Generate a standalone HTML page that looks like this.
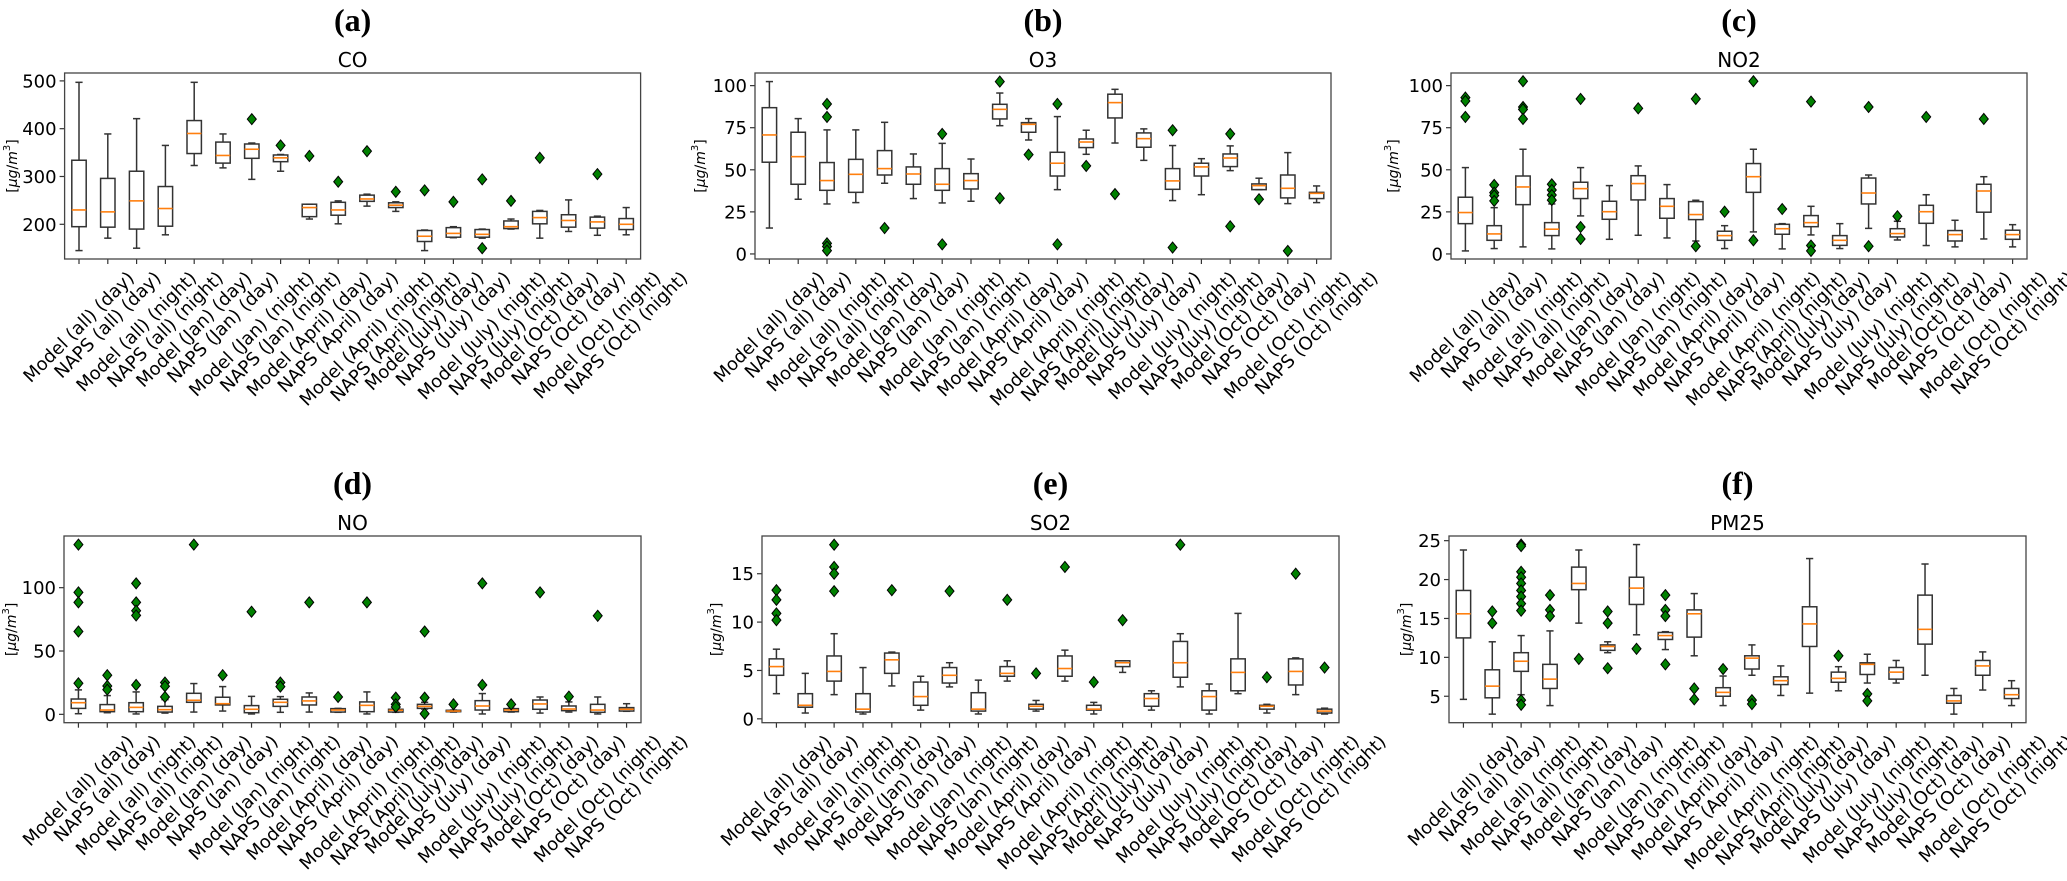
<!DOCTYPE html>
<html><head><meta charset="utf-8"><style>
html,body{margin:0;padding:0;background:#fff;}
svg{display:block;font-family:"DejaVu Sans","Liberation Sans",sans-serif;}
</style></head><body>
<svg id="chart" width="2067" height="881" viewBox="0 0 2067 881" xmlns="http://www.w3.org/2000/svg"></svg>
<script>
const categories=["Model (all) (day)","NAPS (all) (day)","Model (all) (night)","NAPS (all) (night)","Model (Jan) (day)","NAPS (Jan) (day)","Model (Jan) (night)","NAPS (Jan) (night)","Model (April) (day)","NAPS (April) (day)","Model (April) (night)","NAPS (April) (night)","Model (July) (day)","NAPS (July) (day)","Model (July) (night)","NAPS (July) (night)","Model (Oct) (day)","NAPS (Oct) (day)","Model (Oct) (night)","NAPS (Oct) (night)"];

// CO
const coLo=[145,171,150,178,323,318,294,311,211,201,238,227,145,172,171,190,171,185,177,178];
const coQ1=[195,194,190,196,348,328,338,331,216,219,248,235,164,173,173,191,201,194,192,189];
const coMed=[230,226,249,233,390,344,357,339,235,230,253,240,175,181,179,195,214,208,205,200];
const coQ3=[334,296,311,279,417,372,368,345,242,246,261,245,187,193,189,207,227,220,215,212];
const coHi=[497,389,421,365,497,389,370,346,242,249,263,247,188,195,190,211,229,251,217,235];
const coFl=[[],[],[],[],[],[],[420],[365],[343],[289],[353],[268],[271],[247],[294,150],[249],[339],[],[305],[]];
const coTicks=[200,300,400,500];
// O3
const o3Lo=[15.4,32.5,29.7,30.5,42,32.9,30.3,31.3,76.2,67.7,38.2,59.2,65.9,55.6,31.7,35.2,49.5,38.2,29.9,30.5];
const o3Q1=[54.5,41.4,37.8,36.6,46.9,41.4,37.8,38.6,80.2,72.3,46.3,63.2,80.8,63.4,38.4,46.3,51.9,38.2,33.3,32.9];
const o3Med=[70.7,57.8,43.6,47.3,50.7,47.5,41.4,43.6,85.9,77,53.9,66.5,89.9,68.5,43.4,51.7,57,40.6,39,36];
const o3Q3=[86.9,72.3,54.3,56.2,61.4,51.7,50.7,47.7,88.9,78,60.4,68.3,94.9,71.9,50.7,53.9,59.4,41.6,46.9,36.6];
const o3Hi=[102.4,80.4,73.7,73.7,78.2,59.4,65.7,56.4,95.6,80.4,81.6,73.5,97.8,74.3,64.4,56.6,64.2,45,60.2,40.4];
const o3Fl=[[],[],[89.1,81.4,6.3,4.4,2],[],[15.4],[],[71.3,5.7],[],[102.4,33.1],[59],[89.1,5.7],[52.3],[35.6],[],[73.5,3.8],[],[71.3,16.4],[32.5],[1.8],[]];
const o3Ticks=[0,25,50,75,100];
// NO2
const no2Lo=[1.8,3.2,4.2,3,22.6,8.7,11.1,9.5,7.7,3.2,13.1,3,11.3,3.2,15.2,8.3,5,4.2,8.9,4.2];
const no2Q1=[18,8.1,29.3,10.9,32.9,20.6,32.1,21.2,20.4,8.1,36.6,11.7,16.2,5.1,29.7,10.1,18.2,7.7,24.8,8.7];
const no2Med=[24.6,11.9,39.8,14.7,38.8,25.1,41.8,28.3,23.4,10.9,45.9,15,18.6,8.1,36.2,12.1,25.1,11.5,37.4,11.5];
const no2Q3=[33.7,16.8,46.3,18.6,42.6,31.3,46.5,32.9,31.1,13.5,53.7,17.6,22.8,10.9,45.1,15,28.9,13.9,41.4,14.1];
const no2Hi=[51.3,27.5,62.2,29.7,51.3,40.6,52.3,41.2,31.9,16.8,62.2,18,28.3,18,46.9,19.4,35.2,20,45.9,17.4];
const no2Fl=[[92.9,90.9,81.4],[41,36.4,34.7,31.5],[102.6,87.3,85.9,80.2],[41.4,38,35,32],[92.1,16,8.9],[],[86.5],[],[92.1,4.6],[25.1],[102.6,8.1],[26.7],[90.5,5,1.8],[],[87.3,4.6],[22.4],[81.4],[],[80.2],[]];
const no2Ticks=[0,25,50,75,100];
// NO
const noLo=[0.5,1.3,0.3,1,1.8,2.6,0.3,1.6,1.8,1.6,0.3,1.6,4.2,1.8,0.3,1.8,1,1.8,0.3,2.4];
const noQ1=[4.7,2.1,2.1,1.8,9.5,7.4,1.3,6.3,7.4,1.8,2.1,1.8,4.7,2.1,3.4,2.1,4,2.9,1.6,2.6];
const noMed=[9.2,3.4,5.5,3.7,11.1,8.4,4,9.5,10.6,3.4,7.1,3.2,6.3,2.6,6.6,3.4,8.2,4.2,3.4,4];
const noQ3=[12.1,7.7,9.2,6.3,16.6,13.5,6.9,11.9,13.7,4.5,9.8,4,7.9,3.2,10.8,4.5,11.3,6.6,7.9,5.3];
const noHi=[19.3,14.8,17.7,11.6,24.3,21.9,14.2,14,16.9,4.7,17.7,4.5,9.5,3.4,16.4,4.7,13.7,9.8,13.7,8.4];
const noFl=[[134,96.3,88.4,65.4,24.5],[30.9,22.4,19.5],[103.4,88.4,81.8,78.1,23.2],[25.1,22.2,13.7],[134],[30.9],[81],[25.1,21.9],[88.4],[13.7],[88.4],[13.2,7.9,5.8],[65.4,13.2,0.5],[7.9],[103.4,23.2],[7.9],[96.3],[14],[77.8],[]];
const noTicks=[0,50,100];
// SO2
const so2Lo=[2.6,0.6,2.5,0.5,3.4,0.9,3.3,0.5,3.9,0.8,3.9,0.5,4.8,0.9,3.3,0.5,2.6,0.6,2.5,0.5];
const so2Q1=[4.5,1.2,3.9,0.7,4.7,1.4,3.7,0.8,4.4,1,4.4,0.9,5.4,1.3,4.3,0.9,2.9,1,3.5,0.6];
const so2Med=[5.4,1.4,4.9,1,6.1,2.3,4.5,1,4.7,1.3,5.2,1,5.8,2.1,5.8,2.3,4.8,1.3,4.9,0.8];
const so2Q3=[6.2,2.6,6.5,2.6,6.8,3.8,5.3,2.7,5.4,1.5,6.5,1.4,6,2.6,8,2.9,6.2,1.4,6.2,1];
const so2Hi=[7.2,4.7,8.8,5.3,6.9,4.4,5.8,4,6,1.9,7.1,1.7,6,2.9,8.8,3.6,10.9,1.5,6.3,1.1];
const so2Fl=[[13.3,12.3,10.9,10.2],[],[18,15.7,15,13.2],[],[13.3],[],[13.2],[],[12.3],[4.7],[15.7],[3.8],[10.2],[],[18],[],[],[4.3],[15],[5.3]];
const so2Ticks=[0,5,10,15];
// PM25
const pmLo=[4.6,2.7,5.2,3.8,14.4,10.6,12.9,11,10.2,3.8,7.7,5.1,5.4,5.7,6.7,6.7,7.7,2.7,5.8,3.8];
const pmQ1=[12.5,4.8,8.2,6,18.7,10.9,16.8,12.3,12.6,5,8.5,6.5,11.4,6.8,7.8,7.2,11.7,4.1,7.7,4.7];
const pmMed=[15.6,6.3,9.5,7.2,19.5,11.4,18.9,12.8,15.6,5.5,9.9,7,14.3,7.3,9.1,8.1,13.6,4.4,8.9,5.2];
const pmQ3=[18.6,8.4,10.6,9.1,21.6,11.6,20.3,13.2,16.1,6.1,10.2,7.5,16.5,8.1,9.3,8.7,18,5.1,9.6,6];
const pmHi=[23.8,12,12.8,13.4,23.8,12,24.5,13.3,18.2,7.6,11.6,8.9,22.7,8.8,10.4,9.6,22,6,10.7,7];
const pmFl=[[],[15.9,14.4],[24.5,24.3,21,20.3,19.5,18.6,17.8,16.9,16,4.5,3.9],[18,16.1,15.3],[9.8],[15.9,14.4,8.6],[11.1],[18,16.1,15.3,9.1],[6,4.6],[8.5],[4.5,4],[],[],[10.2],[5.3,4.4],[],[],[],[],[]];
const pmTicks=[5,10,15,20,25];

const NS="http://www.w3.org/2000/svg";
const svg=document.getElementById('chart');
function mk(tag,attrs,parent){const e=document.createElementNS(NS,tag);for(const k in attrs)e.setAttribute(k,attrs[k]);(parent||svg).appendChild(e);return e;}

const panels=[
 {id:'a',name:'CO',left:64.6,right:640.6,top:73,bottom:259,ymin:127.4,ymax:516.5,ticks:coTicks,lo:coLo,q1:coQ1,med:coMed,q3:coQ3,hi:coHi,fl:coFl,labX:13},
 {id:'b',name:'O3',left:755,right:1331,top:73,bottom:259,ymin:-3,ymax:107.5,ticks:o3Ticks,lo:o3Lo,q1:o3Q1,med:o3Med,q3:o3Q3,hi:o3Hi,fl:o3Fl,labX:701},
 {id:'c',name:'NO2',left:1451,right:2027,top:73,bottom:259,ymin:-3,ymax:107.5,ticks:no2Ticks,lo:no2Lo,q1:no2Q1,med:no2Med,q3:no2Q3,hi:no2Hi,fl:no2Fl,labX:1394},
 {id:'d',name:'NO',left:64,right:641,top:536,bottom:722.7,ymin:-6.6,ymax:140.8,ticks:noTicks,lo:noLo,q1:noQ1,med:noMed,q3:noQ3,hi:noHi,fl:noFl,labX:12},
 {id:'e',name:'SO2',left:762,right:1339,top:536,bottom:722.7,ymin:-0.4,ymax:18.9,ticks:so2Ticks,lo:so2Lo,q1:so2Q1,med:so2Med,q3:so2Q3,hi:so2Hi,fl:so2Fl,labX:717},
 {id:'f',name:'PM25',left:1449,right:2026,top:536,bottom:722.7,ymin:1.6,ymax:25.6,ticks:pmTicks,lo:pmLo,q1:pmQ1,med:pmMed,q3:pmQ3,hi:pmHi,fl:pmFl,labX:1407}
];

panels.forEach(p=>{
  const g=mk('g',{});
  
  
  const yS=v=>p.bottom-(v-p.ymin)/(p.ymax-p.ymin)*(p.bottom-p.top);
  const step=(p.right-p.left)/categories.length;
  const xS=i=>p.left+(i+0.5)*step;
  const cx=(p.left+p.right)/2;
  const letter=mk('text',{x:cx,y:p.top-42,'text-anchor':'middle','font-family':'"Liberation Serif",serif','font-weight':'bold','font-size':'32',fill:'#000'},g);
  letter.textContent='('+p.id+')';
  
  
  const title=mk('text',{x:cx,y:p.top-6,'text-anchor':'middle','font-size':'20',fill:'#000'},g);
  title.textContent=p.name;
  
  
  const ly=(p.top+p.bottom)/2;
  const yl=mk('text',{x:p.labX,y:ly,'text-anchor':'middle','font-size':'14',fill:'#000',transform:'rotate(-90 '+p.labX+' '+ly+')','dominant-baseline':'middle'},g);
  yl.innerHTML='[<tspan font-style="italic">μg</tspan>/<tspan font-style="italic">m</tspan><tspan font-size="10" dy="-6">3</tspan><tspan dy="6">]</tspan>';
  
  
  p.ticks.forEach(t=>{
    const yy=yS(t);
    mk('line',{x1:p.left-5,x2:p.left,y1:yy,y2:yy,stroke:'#333','stroke-width':1.2},g);
    const tl=mk('text',{x:p.left-8,y:yy+6.5,'text-anchor':'end','font-size':'18',fill:'#000'},g);
    tl.textContent=t;
    
    
  });
  categories.forEach((c,i)=>{
    const x=xS(i), hw=step*0.25, cw=step*0.125;
    const bg=mk('g',{},g);
    
    
    const st={stroke:'#333','stroke-width':1.5,fill:'none'};
    mk('line',Object.assign({x1:x,x2:x,y1:yS(p.q3[i]),y2:yS(p.hi[i])},st),bg);
    mk('line',Object.assign({x1:x,x2:x,y1:yS(p.q1[i]),y2:yS(p.lo[i])},st),bg);
    mk('line',Object.assign({x1:x-cw,x2:x+cw,y1:yS(p.hi[i]),y2:yS(p.hi[i])},st),bg);
    mk('line',Object.assign({x1:x-cw,x2:x+cw,y1:yS(p.lo[i]),y2:yS(p.lo[i])},st),bg);
    mk('rect',Object.assign({x:x-hw,y:yS(p.q3[i]),width:2*hw,height:Math.max(0.5,yS(p.q1[i])-yS(p.q3[i]))},st),bg);
    mk('line',{x1:x-hw,x2:x+hw,y1:yS(p.med[i]),y2:yS(p.med[i]),stroke:'#ff7f0e','stroke-width':1.6},bg);
    p.fl[i].forEach(v=>{
      const fy=yS(v);
      const d=mk('polygon',{points:`${x},${fy-5.5} ${x+4.5},${fy} ${x},${fy+5.5} ${x-4.5},${fy}`,fill:'#008000',stroke:'#000','stroke-width':1},bg);
      
      
    });
    mk('line',{x1:x,x2:x,y1:p.bottom,y2:p.bottom+5,stroke:'#333','stroke-width':1.2},g);
    const tl=mk('text',{'text-anchor':'end','font-size':'18',fill:'#000'},g);
    tl.textContent=c;
    
    
    const L=tl.getComputedTextLength();
    const ax=x+L*0.3536+4, ay=p.bottom+20;
    tl.setAttribute('x',ax);tl.setAttribute('y',ay);
    tl.setAttribute('transform','rotate(-45 '+ax+' '+ay+')');
  });
  const fr=mk('rect',{x:p.left,y:p.top,width:p.right-p.left,height:p.bottom-p.top,fill:'none',stroke:'#444','stroke-width':1.3},g);
  
  
});
</script>
</body></html>
